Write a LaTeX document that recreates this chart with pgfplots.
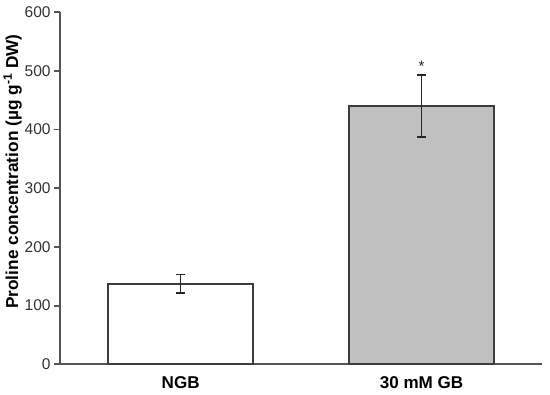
\documentclass[border=0pt]{standalone}
\usepackage{fontspec}
\setmainfont{Liberation Sans}
\usepackage{pgfplots}
\pgfplotsset{compat=1.18}
\definecolor{AxisGray}{RGB}{85,85,85}
\definecolor{BarEdge}{RGB}{60,60,60}
\definecolor{BarGray}{RGB}{192,192,192}
\definecolor{LabelGray}{RGB}{50,50,50}
\begin{document}
\begin{tikzpicture}
\begin{axis}[
    scale only axis,
    width=480pt, height=351pt,
    xmin=-0.5, xmax=1.5,
    ymin=0, ymax=600,
    axis x line=bottom, axis y line=left,
    axis line style={AxisGray, line width=1.8pt, -},
    xtick={0,1},
    xticklabels={NGB,30 mM GB},
    x tick style={draw=none},
    xticklabel style={font=\bfseries\fontsize{17}{20}\selectfont, black, yshift=-3pt},
    ytick={0,100,...,600},
    y tick style={AxisGray, line width=1.8pt},
    tick align=outside,
    major tick length=6pt,
    yticklabel style={font=\fontsize{15.5}{18}\selectfont, LabelGray},
    /pgf/number format/assume math mode=true,
    ylabel={\bfseries Proline concentration (µg g\textsuperscript{-1} DW)},
    ylabel style={font=\fontsize{17.2}{20}\selectfont, at={(ticklabel cs:0.547)}, yshift=-4pt},
    clip=false,
]
\addplot[ybar, bar width=0.6, fill=white, draw=BarEdge, line width=1.8pt,
    error bars/.cd, y dir=both, y explicit,
    error bar style={line width=1.6pt, black!85},
    error mark options={rotate=90, mark size=4.5pt, line width=1.6pt, black!85}]
    coordinates {(0,137) +- (0,16)};
\addplot[ybar, bar width=0.6, fill=BarGray, draw=BarEdge, line width=1.8pt,
    error bars/.cd, y dir=both, y explicit,
    error bar style={line width=1.6pt, black!85},
    error mark options={rotate=90, mark size=4.5pt, line width=1.6pt, black!85}]
    coordinates {(1,440) +- (0,53)};
\node[font=\fontsize{15}{16}\selectfont, black!85] at (axis cs:1,508) {*};
\path (rel axis cs:0,0) ++(-60pt,-30pt) coordinate (bl);
\path (rel axis cs:1,1) ++(8pt,12pt) coordinate (tr);
\path (bl) (tr);
\end{axis}
\end{tikzpicture}
\end{document}
